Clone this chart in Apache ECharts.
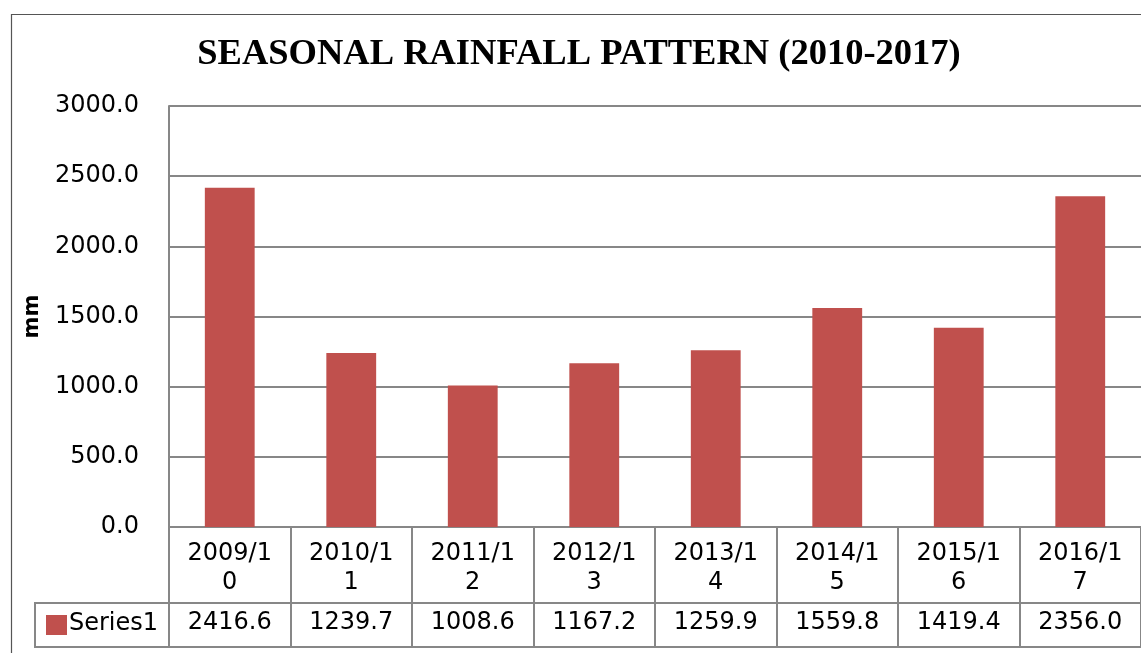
<!DOCTYPE html>
<html>
<head>
<meta charset="utf-8">
<script src="https://cdn.jsdelivr.net/npm/echarts@6/dist/echarts.min.js"></script>
<style>
  html, body { margin: 0; padding: 0; background: #fff; }
  #rainChart { width: 1141px; height: 653px; }
</style>
</head>
<body>
<div id="rainChart"></div>
<script>
  // seasons and rainfall totals (mm)
  var seasons = ['2009/10', '2010/11', '2011/12', '2012/13', '2013/14', '2014/15', '2015/16', '2016/17']
  var rainfall = [2416.6, 1239.7, 1008.6, 1167.2, 1259.9, 1559.8, 1419.4, 2356.0]
  var yTicks = [0, 500, 1000, 1500, 2000, 2500, 3000]
  var seriesName = 'Series1'

  var gridLeft = 169
  var gridWidth = 973
  var lineColor = '#878787'
  var barColor = '#C0504D'
  var fontSans = 'DejaVu Sans'
  var fontSize = 24

  // wrap the category the way the table cell does
  function wrapLabel (s) {
    return s.slice(0, 6) + '\n' + s.slice(6)
  }

  var chart = echarts.init(document.getElementById('rainChart'))
  var option = {
    animation: false,
    title: {
      text: 'SEASONAL RAINFALL PATTERN (2010-2017)',
      left: 574,
      top: 31,
      textAlign: 'center',
      textStyle: {
        fontFamily: 'Liberation Serif',
        fontWeight: 'bold',
        fontSize: 36.5,
        color: '#000'
      }
    },
    grid: [
      {left: gridLeft, top: 106, width: gridWidth, height: 421},
      {left: gridLeft, top: 527, width: gridWidth, height: 76},
      {left: gridLeft, top: 603, width: gridWidth, height: 44}
    ],
    xAxis: [
      {
        type: 'category', gridIndex: 0, data: seasons,
        axisLine: {lineStyle: {color: lineColor, width: 2}},
        axisTick: {show: false},
        axisLabel: {show: false}
      },
      {
        type: 'category', gridIndex: 1, data: seasons,
        axisLine: {lineStyle: {color: lineColor, width: 2}},
        axisTick: {show: false},
        axisLabel: {show: false},
        splitLine: {show: true, lineStyle: {color: lineColor, width: 2}}
      },
      {
        type: 'category', gridIndex: 2, data: seasons,
        axisLine: {lineStyle: {color: lineColor, width: 2}},
        axisTick: {show: false},
        axisLabel: {show: false},
        splitLine: {show: true, lineStyle: {color: lineColor, width: 2}}
      }
    ],
    yAxis: [
      {
        type: 'value', gridIndex: 0,
        min: yTicks[0], max: yTicks[yTicks.length - 1], interval: yTicks[1] - yTicks[0],
        name: 'mm',
        nameLocation: 'middle',
        nameRotate: 90,
        nameGap: 126,
        nameTextStyle: {fontFamily: fontSans, fontWeight: 'bold', fontSize: 21, color: '#000'},
        axisLine: {show: true, lineStyle: {color: lineColor, width: 2}},
        axisTick: {show: false},
        axisLabel: {
          fontFamily: fontSans, fontSize: fontSize, color: '#000', margin: 30,
          formatter: function (v) { return v.toFixed(1) }
        },
        splitLine: {lineStyle: {color: lineColor, width: 2}}
      },
      {
        type: 'value', gridIndex: 1, min: 0, max: 1,
        axisLine: {show: true, lineStyle: {color: lineColor, width: 2}},
        axisTick: {show: false}, axisLabel: {show: false}, splitLine: {show: false}
      },
      {
        type: 'value', gridIndex: 2, min: 0, max: 1,
        axisLine: {show: true, lineStyle: {color: lineColor, width: 2}},
        axisTick: {show: false}, axisLabel: {show: false}, splitLine: {show: false}
      }
    ],
    series: [
      {
        name: seriesName,
        type: 'bar',
        xAxisIndex: 0, yAxisIndex: 0,
        barWidth: '41%',
        data: rainfall,
        itemStyle: {color: barColor}
      },
      {
        // category row of the data table
        type: 'scatter',
        xAxisIndex: 1, yAxisIndex: 1,
        symbolSize: 0,
        silent: true,
        itemStyle: {opacity: 1},
        data: seasons.map(function (s, i) { return [i, 0.46] }),
        label: {
          show: true, position: 'inside',
          fontFamily: fontSans, fontSize: fontSize, color: '#000', lineHeight: 29,
          textBorderWidth: 0,
          formatter: function (p) { return wrapLabel(seasons[p.dataIndex]) }
        }
      },
      {
        // value row of the data table
        type: 'scatter',
        xAxisIndex: 2, yAxisIndex: 2,
        symbolSize: 0,
        silent: true,
        itemStyle: {opacity: 1},
        data: rainfall.map(function (v, i) { return [i, 0.55] }),
        label: {
          show: true, position: 'inside',
          fontFamily: fontSans, fontSize: fontSize, color: '#000',
          textBorderWidth: 0,
          formatter: function (p) { return rainfall[p.dataIndex].toFixed(1) }
        }
      }
    ],
    graphic: [
      {
        type: 'rect', silent: true,
        shape: {x: 11.5, y: 14.5, width: 1300, height: 800},
        style: {fill: null, stroke: '#555', lineWidth: 1.2}
      },
      {
        type: 'rect', silent: true,
        shape: {x: 35, y: 603, width: gridLeft - 35, height: 44},
        style: {fill: null, stroke: lineColor, lineWidth: 2}
      },
      {
        type: 'rect', silent: true,
        shape: {x: 46, y: 615, width: 21, height: 20},
        style: {fill: barColor}
      },
      {
        type: 'text', silent: true,
        x: 69, y: 624,
        style: {text: seriesName, fontFamily: fontSans, fontSize: fontSize, fill: '#000', verticalAlign: 'middle'}
      }
    ]
  }
  chart.setOption(option)
  window.onresize = function () {
    chart.resize()
  }
</script>
</body>
</html>
